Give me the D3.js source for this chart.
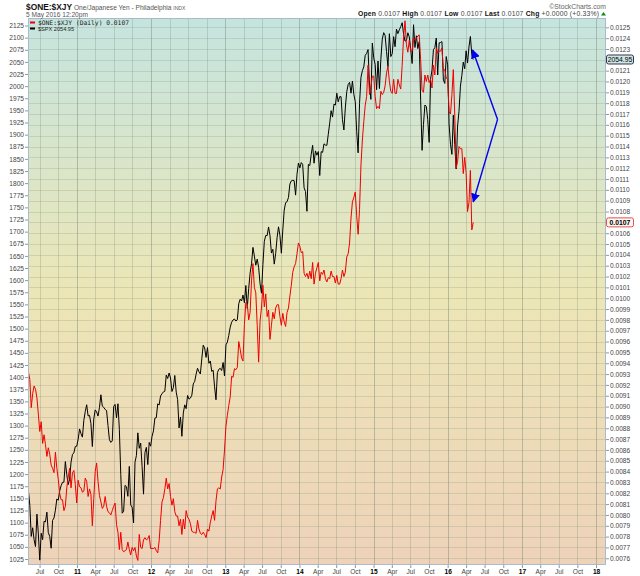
<!DOCTYPE html>
<html>
<head>
<meta charset="utf-8">
<script src="https://cdn.jsdelivr.net/npm/d3@7"></script>
<style>
  body { margin: 0; background: #fff; }
  svg { display: block; }
  text { font-family: "Liberation Sans", Arial, sans-serif; }
</style>
</head>
<body>
<svg id="chart" width="640" height="576"></svg>
<script>
// weekly closes, first Friday 7 May 2010, last 6 May 2016
const weeks = d3.timeFriday.range(new Date(2010, 4, 7), new Date(2016, 4, 7));

// $SPX closes
const spx = [
  // 2010
  1165.9, 1135.7, 1071.6, 1089.4, 1064.9, 1050.5, 1117.5, 1076.8,
  1022.6, 1078.0, 1064.9, 1102.7, 1101.6, 1121.6, 1079.3, 1071.7, 1047.2,
  1104.5, 1109.6, 1125.6, 1148.7, 1146.2, 1165.2, 1176.2, 1183.1, 1183.3,
  1225.9, 1199.2, 1178.3, 1189.4, 1224.7, 1240.4, 1243.9, 1256.8, 1257.6,
  // 2011
  1271.5, 1293.2, 1283.4, 1276.3, 1310.9, 1329.2, 1343.0, 1319.9,
  1321.2, 1304.3, 1256.9, 1313.8, 1332.4, 1328.2, 1319.7, 1337.4, 1363.6,
  1340.2, 1337.8, 1333.3, 1331.1, 1300.2, 1271.0, 1265.4, 1268.5,
  1339.7, 1343.8, 1316.1, 1345.0, 1292.3, 1199.4, 1119.5, 1123.5, 1176.8,
  1174.0, 1154.2, 1216.0, 1136.4, 1131.4, 1099.2, 1224.6, 1238.3, 1285.1,
  1253.2, 1263.9, 1215.7, 1158.7, 1244.3, 1255.2, 1219.7, 1265.3, 1257.6,
  // 2012
  1277.8, 1289.1, 1315.4, 1316.3, 1344.9, 1342.6, 1361.2, 1365.7,
  1369.6, 1370.9, 1404.2, 1397.1, 1408.5, 1398.1, 1370.3, 1378.5, 1403.4,
  1369.1, 1353.4, 1295.2, 1317.8, 1278.0, 1325.7, 1342.8, 1335.0, 1362.2,
  1354.7, 1356.8, 1362.7, 1386.0, 1391.0, 1405.9, 1418.2, 1411.1, 1406.6,
  1437.9, 1465.8, 1460.2, 1440.7, 1460.9, 1428.6, 1433.2, 1411.9,
  1414.2, 1379.9, 1353.3, 1409.2, 1416.2, 1418.1, 1413.6, 1430.2, 1402.4,
  // 2013
  1466.5, 1472.1, 1486.0, 1503.0, 1513.2, 1517.9, 1519.8, 1515.6,
  1518.2, 1551.2, 1560.7, 1556.9, 1569.2, 1553.3, 1588.9, 1541.6, 1582.2,
  1614.4, 1633.7, 1667.5, 1649.6, 1630.7, 1643.4, 1626.7, 1592.4, 1573.1,
  1631.9, 1680.2, 1692.1, 1691.7, 1709.7, 1691.4, 1655.8, 1663.5, 1633.0,
  1655.2, 1688.0, 1709.9, 1691.8, 1655.5, 1703.2, 1744.5, 1759.8,
  1761.6, 1770.6, 1798.2, 1804.8, 1805.8, 1805.1, 1775.3, 1818.3, 1841.4,
  // 2014
  1831.4, 1842.4, 1838.7, 1790.3, 1782.6, 1741.9, 1838.6, 1836.3, 1859.5,
  1878.0, 1841.1, 1866.5, 1857.6, 1865.1, 1815.7, 1864.9, 1863.4,
  1881.1, 1878.5, 1877.9, 1900.5, 1923.6, 1949.4, 1936.2, 1962.9, 1961.0,
  1985.4, 1967.6, 1978.2, 1978.3, 1930.7, 1909.6, 1955.1, 1988.4, 2003.4,
  2007.7, 1985.5, 2010.4, 1982.9, 1967.9, 1906.1, 1862.5, 1964.6, 2018.1,
  2031.9, 2039.8, 2063.5, 2067.6, 2075.4, 2002.3, 1972.7, 2088.8,
  // 2015
  2058.2, 2044.8, 1992.7, 2051.8, 1995.0, 2055.5, 2097.0, 2110.3, 2104.5,
  2071.3, 2040.2, 2108.1, 2061.0, 2067.0, 2102.1, 2081.2, 2117.7,
  2108.3, 2116.1, 2122.7, 2130.8, 2107.4, 2092.8, 2094.1, 2110.0, 2101.5,
  2076.8, 2046.7, 2126.6, 2079.7, 2103.8, 2077.6, 2091.5, 1970.9, 1867.6,
  1921.2, 1961.1, 1958.0, 1931.3, 1884.1, 2014.9, 2033.1, 2075.2, 2079.4,
  2099.2, 2023.0, 2089.2, 2090.1, 2091.7, 2012.4, 2005.6, 2061.0,
  // 2016
  2043.9, 1922.0, 1880.3, 1859.3, 1940.2, 1880.1, 1829.1, 1917.8, 1948.1,
  2000.0, 2022.2, 2049.6, 2035.9, 2072.8, 2047.6, 2080.7, 2102.4, 2065.3,
  2054.95
];

// $ONE:$XJY closes, in units of 0.0001
const xjy = [
  // 2010
  93.2, 92.5, 89.9, 91.2, 91.9, 91.6, 90.8, 89.3,
  87.7, 88.6, 86.6, 87.4, 86.5, 85.4, 86.2, 85.6, 84.6,
  84.3, 83.9, 85.8, 84.3, 83.3, 82.0, 81.4, 81.4, 80.4,
  80.8, 82.5, 83.5, 84.3, 82.5, 83.9, 84.1, 82.8, 81.1,
  // 2011
  83.2, 82.6, 82.5, 82.1, 82.2, 83.4, 83.1, 81.7,
  82.4, 81.9, 79.0, 81.5, 84.0, 84.8, 83.1, 81.8, 81.2,
  80.6, 80.8, 81.7, 80.8, 80.3, 80.2, 80.0, 80.4,
  80.8, 81.1, 79.1, 78.4, 76.8, 78.4, 76.8, 76.6, 76.7,
  76.8, 77.5, 76.8, 76.3, 77.0, 76.7, 77.0, 76.2, 75.8,
  78.2, 77.0, 76.9, 77.7, 77.9, 77.7, 77.8, 78.1, 76.9,
  // 2012
  76.9, 76.9, 77.0, 76.7, 76.5, 77.6, 79.5, 81.2,
  81.6, 82.4, 83.4, 82.4, 82.9, 81.7, 80.9, 81.5, 80.3,
  79.9, 79.9, 79.0, 79.6, 78.2, 79.6, 78.7, 80.4, 79.8,
  79.6, 79.2, 78.5, 78.4, 78.4, 78.3, 79.5, 78.7, 78.3,
  78.2, 78.4, 78.2, 77.9, 78.7, 78.5, 79.3, 79.9,
  80.4, 79.5, 81.3, 82.4, 82.5, 82.4, 83.5, 84.2, 86.0,
  // 2013
  88.2, 89.2, 90.1, 90.9, 92.8, 92.7, 93.5, 93.4,
  93.6, 96.0, 95.3, 94.5, 94.2, 97.6, 99.6, 99.5, 98.0,
  98.7, 101.6, 103.2, 101.0, 100.5, 97.5, 94.1, 97.9, 99.1,
  101.2, 99.2, 100.4, 98.3, 98.9, 96.2, 97.5, 98.7, 98.1,
  99.1, 99.4, 99.4, 98.3, 97.5, 98.6, 97.8, 97.4,
  98.7, 99.1, 100.2, 101.2, 102.4, 102.9, 103.2, 104.1, 105.1,
  // 2014
  104.8, 104.2, 104.3, 102.3, 102.0, 102.3, 101.8, 102.5, 101.8,
  103.3, 101.3, 102.3, 102.8, 103.3, 101.6, 102.4, 102.2,
  102.6, 101.8, 101.5, 101.9, 101.8, 102.5, 102.0, 102.0, 101.4,
  102.1, 101.3, 101.3, 101.8, 102.6, 102.0, 102.4, 103.8, 104.1,
  105.1, 107.4, 108.9, 109.3, 109.8, 107.6, 105.9, 108.2, 112.3,
  114.6, 116.3, 117.8, 118.6, 121.5, 118.8, 119.5, 120.5,
  // 2015
  120.5, 118.6, 117.5, 117.7, 117.5, 119.1, 118.8, 119.0, 119.6,
  120.8, 121.4, 120.0, 119.1, 118.9, 120.2, 118.9, 118.9,
  120.2, 119.7, 119.3, 121.5, 124.1, 125.6, 123.4, 122.7, 123.8,
  122.8, 122.8, 124.0, 123.8, 124.0, 124.2, 124.3, 122.0, 119.2,
  119.0, 120.6, 120.0, 120.6, 119.9, 120.2, 119.4, 121.5, 120.6,
  123.1, 122.6, 122.8, 122.8, 123.1, 121.0, 121.1, 120.3,
  // 2016
  120.2, 117.2, 117.0, 118.8, 121.1, 116.9, 112.0, 112.6, 114.0,
  113.8, 113.8, 111.5, 113.0, 111.6, 108.0, 108.8, 111.8, 106.3,
  107.0
];

// axis ticks
const spxTicks = d3.range(1025, 2126, 25);
const xjyTicks = d3.range(76, 125.5, 1);
const quarterTicks = d3.timeMonth.every(3).range(new Date(2010, 6, 1), new Date(2018, 0, 2));
const monthNames = { 3: "Apr", 6: "Jul", 9: "Oct" };

// hand-drawn arrow annotation (date, $XJY value)
const arrowTips = [
  { date: new Date(2016, 4, 3), v: 122.9 },
  { date: new Date(2016, 4, 6), v: 108.9 }
];
const arrowJoint = { date: new Date(2016, 8, 3), v: 116.5 };

const lastSpx = 2054.95;
const lastXjy = 107.0;

const pL = 28, pR = 606, pT = 18, pB = 565;

const svg = d3.select("#chart");

const x = d3.scaleTime()
  .domain([new Date(2010, 4, 5), new Date(2018, 1, 19)])
  .range([pL, pR]);
const yL = d3.scaleLinear().domain([1012.6, 2140.5]).range([pB, pT]);
const yR = d3.scaleLinear().domain([75.38, 125.86]).range([pB, pT]);

// background gradient
const defs = svg.append("defs");
const grad = defs.append("linearGradient").attr("id", "bg")
  .attr("x1", 0).attr("y1", 0).attr("x2", 0).attr("y2", 1);
grad.append("stop").attr("offset", "0%").attr("stop-color", "#c5e4df");
grad.append("stop").attr("offset", "50%").attr("stop-color", "#ece6b6");
grad.append("stop").attr("offset", "100%").attr("stop-color", "#eed2b9");

defs.append("marker").attr("id", "arrowhead")
  .attr("viewBox", "0 0 10 10").attr("refX", 9).attr("refY", 5)
  .attr("markerWidth", 9).attr("markerHeight", 9).attr("markerUnits", "userSpaceOnUse")
  .attr("orient", "auto")
  .append("path").attr("d", "M0,0L10,5L0,10Z").attr("fill", "#0000ee");

defs.append("clipPath").attr("id", "plotclip")
  .append("rect").attr("x", pL).attr("y", pT)
  .attr("width", pR - pL).attr("height", pB - pT);

svg.append("rect")
  .attr("x", pL).attr("y", pT)
  .attr("width", pR - pL).attr("height", pB - pT)
  .attr("fill", "url(#bg)");

// grid
const grid = svg.append("g");
grid.selectAll("line.h").data(xjyTicks).enter().append("line")
  .attr("x1", pL).attr("x2", pR)
  .attr("y1", d => Math.round(yR(d)) + 0.5).attr("y2", d => Math.round(yR(d)) + 0.5)
  .attr("stroke", "#8a9a88").attr("stroke-opacity", 0.28);
grid.selectAll("line.v").data(quarterTicks).enter().append("line")
  .attr("x1", d => Math.round(x(d)) + 0.5).attr("x2", d => Math.round(x(d)) + 0.5)
  .attr("y1", pT).attr("y2", pB)
  .attr("stroke", "#7f907c")
  .attr("stroke-opacity", d => d.getMonth() === 0 ? 0.5 : 0.3);

// series
const spxData = weeks.map((d, i) => ({ date: d, v: spx[i] }));
const xjyData = weeks.map((d, i) => ({ date: d, v: xjy[i] }));

const plot = svg.append("g").attr("clip-path", "url(#plotclip)");
plot.append("path").datum(spxData)
  .attr("fill", "none").attr("stroke", "#000").attr("stroke-width", 1)
  .attr("d", d3.line().x(d => x(d.date)).y(d => yL(d.v)));
plot.append("path").datum(xjyData)
  .attr("fill", "none").attr("stroke", "#ee0000").attr("stroke-width", 1)
  .attr("d", d3.line().x(d => x(d.date)).y(d => yR(d.v)));

// arrows
arrowTips.forEach(t => {
  svg.append("line")
    .attr("x1", x(arrowJoint.date)).attr("y1", yR(arrowJoint.v))
    .attr("x2", x(t.date)).attr("y2", yR(t.v))
    .attr("stroke", "#0000ee").attr("stroke-width", 1.4)
    .attr("marker-end", "url(#arrowhead)");
});

// frame
svg.append("rect")
  .attr("x", pL + 0.5).attr("y", pT + 0.5)
  .attr("width", pR - pL - 1).attr("height", pB - pT - 1)
  .attr("fill", "none").attr("stroke", "#a9bccb");

// left axis
const axL = svg.append("g").attr("transform", `translate(${pL},0)`)
  .call(d3.axisLeft(yL).tickValues(spxTicks).tickSize(3).tickPadding(1).tickFormat(d3.format("d")));
// right axis
const axR = svg.append("g").attr("transform", `translate(${pR},0)`)
  .call(d3.axisRight(yR).tickValues(xjyTicks).tickSize(3).tickPadding(1)
    .tickFormat(d => (d / 10000).toFixed(4)));
// bottom axis
const axB = svg.append("g").attr("transform", `translate(0,${pB})`)
  .call(d3.axisBottom(x).tickValues(quarterTicks).tickSize(3).tickPadding(1)
    .tickFormat(d => d.getMonth() === 0 ? d3.timeFormat("%y")(d) : monthNames[d.getMonth()]));

[axL, axR, axB].forEach(a => {
  a.select(".domain").remove();
  a.selectAll(".tick line").attr("stroke", "#8a9aa8");
  a.selectAll("text").attr("fill", "#444").style("font-size", "6.6px")
    .style("font-family", '"Liberation Sans", Arial, sans-serif');
});
axB.selectAll(".tick text")
  .attr("fill", d => d.getMonth() === 0 ? "#000" : "#444")
  .style("font-weight", d => d.getMonth() === 0 ? "bold" : "normal");

// hide the right-axis labels covered by the value boxes
axR.selectAll(".tick text").filter(d => d === 122 || d === 107).remove();

// value boxes on the right axis
function valueBox(yPos, label, stroke, fill, bold) {
  const g = svg.append("g").attr("transform", `translate(${pR},${yPos})`);
  g.append("rect").attr("x", 0.5).attr("y", -4.5).attr("width", 27).attr("height", 9)
    .attr("rx", 2).attr("fill", fill).attr("stroke", stroke);
  g.append("text").attr("x", 14).attr("y", 2.5).attr("text-anchor", "middle")
    .style("font-size", "6.8px").style("font-weight", bold ? "bold" : "normal")
    .attr("fill", "#000").text(label);
}
valueBox(yL(lastSpx), d3.format(".2f")(lastSpx), "#335", "#cfe7e3", false);
valueBox(yR(lastXjy), (lastXjy / 10000).toFixed(4), "#e05050", "#fff6f0", true);

// legend
const legend = svg.append("g");
legend.append("line").attr("x1", 30).attr("x2", 35).attr("y1", 22.5).attr("y2", 22.5)
  .attr("stroke", "#ee0000").attr("stroke-width", 2);
legend.append("text").attr("x", 38).attr("y", 25)
  .style("font-family", '"DejaVu Sans Mono", monospace').style("font-size", "6.3px")
  .attr("fill", "#222")
  .text(`$ONE:$XJY (Daily) ${(lastXjy / 10000).toFixed(4)}`);
legend.append("line").attr("x1", 30).attr("x2", 35).attr("y1", 28.5).attr("y2", 28.5)
  .attr("stroke", "#000").attr("stroke-width", 2);
legend.append("text").attr("x", 38).attr("y", 31)
  .style("font-size", "5.6px").attr("fill", "#222")
  .text(`$SPX ${d3.format(".2f")(lastSpx)}`);

// header
const title = svg.append("text").attr("x", 26).attr("y", 9.5);
title.append("tspan").style("font-weight", "bold").style("font-size", "8.4px").attr("fill", "#111")
  .text("$ONE:$XJY");
title.append("tspan").style("font-size", "6.6px").attr("fill", "#555")
  .text(" One/Japanese Yen - Philadelphia ");
title.append("tspan").style("font-size", "5px").attr("fill", "#555").text("INDX");

svg.append("text").attr("x", 26).attr("y", 17)
  .style("font-size", "6.6px").attr("fill", "#555").text("5 May 2016 12:20pm");

svg.append("text").attr("x", 606).attr("y", 8.5).attr("text-anchor", "end")
  .style("font-size", "6.8px").attr("fill", "#666").text("\u00a9StockCharts.com");

const q = svg.append("text").attr("x", 358).attr("y", 16)
  .attr("textLength", 241).attr("lengthAdjust", "spacing")
  .style("font-size", "6.8px").attr("fill", "#444");
[["Open", "0.0107"], ["High", "0.0107"], ["Low", "0.0107"], ["Last", "0.0107"], ["Chg", "+0.0000 (+0.33%)"]]
  .forEach(([k, v], i) => {
    q.append("tspan").style("font-weight", "bold").attr("fill", "#111").text((i ? "  " : "") + k);
    q.append("tspan").text(" " + v);
  });
svg.append("path").attr("d", "M601,15.5L603.5,12L606,15.5Z").attr("fill", "#0a8a0a");
</script>
</body>
</html>
